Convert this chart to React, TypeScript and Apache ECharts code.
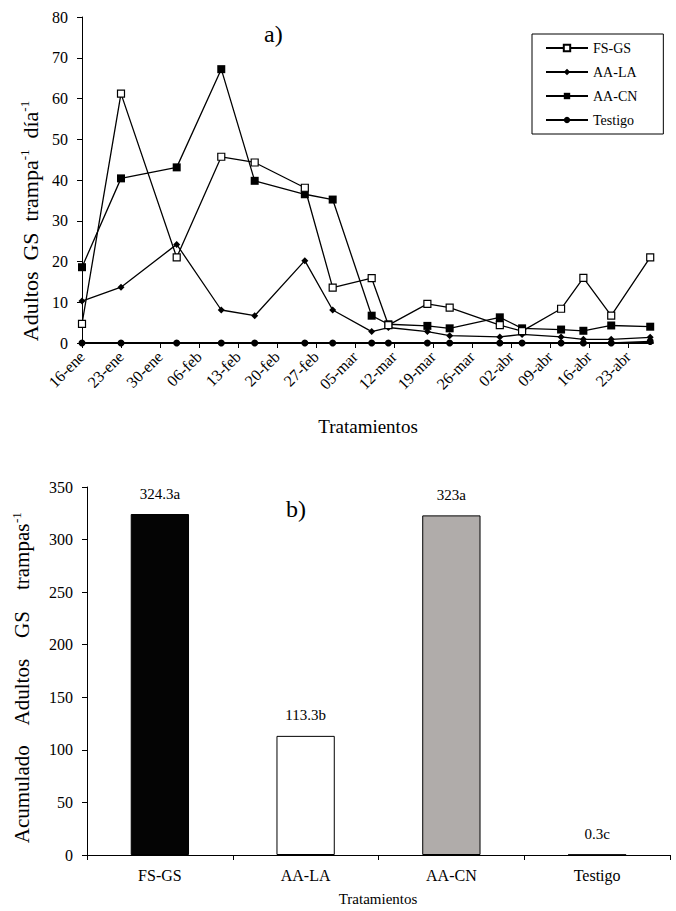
import React, { useEffect, useRef } from "react";
import * as echarts from "echarts";

// ---- Data (panel a) ----
const sampleDates = [
  "2012-01-16", "2012-01-23", "2012-02-02", "2012-02-10", "2012-02-16", "2012-02-25",
  "2012-03-01", "2012-03-08", "2012-03-11", "2012-03-18", "2012-03-22", "2012-03-31",
  "2012-04-04", "2012-04-11", "2012-04-15", "2012-04-20", "2012-04-27",
];
const fsgs = [4.7, 61.2, 21.0, 45.7, 44.3, 38.1, 13.6, 15.9, 4.4, 9.6, 8.7, 4.4, 2.9, 8.4, 16.0, 6.7, 21.0];
const aala = [10.3, 13.7, 24.2, 8.1, 6.7, 20.2, 8.1, 2.8, 3.8, 2.8, 1.8, 1.5, 2.1, 1.5, 0.9, 0.9, 1.4];
const aacn = [18.6, 40.4, 43.1, 67.2, 39.8, 36.5, 35.2, 6.7, 4.6, 4.2, 3.6, 6.3, 3.6, 3.3, 3.0, 4.3, 4.0];
const testigo = [0, 0, 0, 0, 0, 0, 0, 0, 0, 0, 0, 0, 0, 0, 0, 0, 0.4];
const tickLabels = [
  "16-ene", "23-ene", "30-ene", "06-feb", "13-feb", "20-feb", "27-feb", "05-mar",
  "12-mar", "19-mar", "26-mar", "02-abr", "09-abr", "16-abr", "23-abr",
];
const startDate = "2012-01-16";

// ---- Data (panel b) ----
const categories = ["FS-GS", "AA-LA", "AA-CN", "Testigo"];
const totals = [324.3, 113.3, 323, 0.3];
const totalLabels = ["324.3a", "113.3b", "323a", "0.3c"];

const FONT = "'Liberation Serif', 'Times New Roman', serif";

function dayOffset(d: string): number {
  const t0 = Date.parse(startDate + "T00:00:00Z");
  const t = Date.parse(d + "T00:00:00Z");
  return Math.round((t - t0) / 86400000);
}

export default function App() {
  const ref = useRef<HTMLDivElement>(null);
  useEffect(() => {
    if (!ref.current) return;
    const chart = echarts.init(ref.current, null, { renderer: "svg" });
    const xs = sampleDates.map(dayOffset);
    const pts = (arr: number[]) => arr.map((v, i) => [xs[i], v]);
    const tickVals = tickLabels.map((_, i) => i * 7);
    const barColors = ["#040404", "#ffffff", "#b0acaa", "#040404"];

    const lineBase = {
      type: "line",
      xAxisIndex: 0,
      yAxisIndex: 0,
      lineStyle: { color: "#000", width: 1.3 },
      showSymbol: true,
    };

    chart.setOption({
      animation: false,
      textStyle: { fontFamily: FONT, color: "#000" },
      legend: {
        orient: "vertical",
        left: 532,
        top: 34,
        width: 116,
        padding: [7, 26, 7, 13],
        itemWidth: 42,
        itemHeight: 8,
        itemGap: 10,
        borderColor: "#000",
        borderWidth: 1,
        textStyle: { fontFamily: FONT, fontSize: 14, lineHeight: 14, color: "#000" },
        data: ["FS-GS", "AA-LA", "AA-CN", "Testigo"],
      },
      grid: [
        { left: 82, top: 17, right: 23, height: 326, containLabel: false },
        { left: 87, top: 487, right: 6, height: 368, containLabel: false },
      ],
      xAxis: [
        {
          type: "value",
          gridIndex: 0,
          min: 0,
          max: 102.5,
          interval: 7,
          axisLine: { show: true, lineStyle: { color: "#000", width: 1.8 } },
          axisTick: { show: true, inside: false, length: 5, customValues: tickVals, lineStyle: { color: "#000" } },
          axisLabel: {
            customValues: tickVals,
            rotate: 45,
            margin: 11,
            fontFamily: FONT,
            fontSize: 16,
            color: "#000",
            formatter: (v: number) => tickLabels[Math.round(v / 7)] ?? "",
          },
          splitLine: { show: false },
        },
        {
          type: "category",
          gridIndex: 1,
          data: categories,
          axisLine: { show: true, lineStyle: { color: "#000", width: 1 } },
          axisTick: { show: true, inside: false, length: 5, alignWithLabel: false, lineStyle: { color: "#000" } },
          axisLabel: { fontFamily: FONT, fontSize: 16, color: "#000", margin: 12 },
        },
      ],
      yAxis: [
        {
          type: "value",
          gridIndex: 0,
          min: 0,
          max: 80,
          interval: 10,
          axisLine: { show: true, lineStyle: { color: "#000", width: 1 } },
          axisTick: { show: true, inside: false, length: 5, lineStyle: { color: "#000" } },
          axisLabel: { fontFamily: FONT, fontSize: 16, color: "#000", margin: 14 },
          splitLine: { show: false },
        },
        {
          type: "value",
          gridIndex: 1,
          min: 0,
          max: 350,
          interval: 50,
          axisLine: { show: true, lineStyle: { color: "#000", width: 1 } },
          axisTick: { show: true, inside: false, length: 5, lineStyle: { color: "#000" } },
          axisLabel: { fontFamily: FONT, fontSize: 16, color: "#000", margin: 14 },
          splitLine: { show: false },
        },
      ],
      series: [
        {
          ...lineBase,
          name: "Testigo",
          data: pts(testigo),
          symbol: "circle",
          symbolSize: 7,
          itemStyle: { color: "#000" },
          z: 3,
        },
        {
          ...lineBase,
          name: "AA-LA",
          data: pts(aala),
          symbol: "diamond",
          symbolSize: 7,
          itemStyle: { color: "#000" },
          z: 4,
        },
        {
          ...lineBase,
          name: "AA-CN",
          data: pts(aacn),
          symbol: "rect",
          symbolSize: 8,
          itemStyle: { color: "#000" },
          z: 5,
        },
        {
          ...lineBase,
          name: "FS-GS",
          data: pts(fsgs),
          symbol: "rect",
          symbolSize: 7,
          itemStyle: { color: "#fff", borderColor: "#000", borderWidth: 1.2 },
          z: 6,
        },
        {
          type: "bar",
          xAxisIndex: 1,
          yAxisIndex: 1,
          barWidth: "40%",
          data: totals.map((v, i) => ({
            value: v,
            itemStyle: { color: barColors[i], borderColor: "#000", borderWidth: 1 },
          })),
          label: {
            show: true,
            position: "top",
            distance: 13,
            fontFamily: FONT,
            fontSize: 15,
            color: "#000",
            formatter: (p: any) => totalLabels[p.dataIndex],
          },
        },
      ],
      graphic: [
        {
          type: "text",
          left: 264,
          top: 22,
          style: { text: "a)", font: `24px ${FONT}`, fill: "#000" },
        },
        {
          type: "text",
          left: 286,
          top: 497,
          style: { text: "b)", font: `24px ${FONT}`, fill: "#000" },
        },
        {
          type: "text",
          x: 368,
          y: 426,
          style: { text: "Tratamientos", font: `19px ${FONT}`, fill: "#000", align: "center", verticalAlign: "middle" },
        },
        {
          type: "text",
          x: 378,
          y: 899,
          style: { text: "Tratamientos", font: `15px ${FONT}`, fill: "#000", align: "center", verticalAlign: "middle" },
        },
        {
          type: "text",
          x: 30,
          y: 221,
          rotation: Math.PI / 2,
          style: {
            text: "{n|Adultos  GS  trampa}{s|-1}{n|  día}{s|-1}",
            align: "center",
            verticalAlign: "middle",
            fill: "#000",
            rich: {
              n: { fontFamily: FONT, fontSize: 22, fill: "#000", lineHeight: 24 },
              s: { fontFamily: FONT, fontSize: 13, fill: "#000", verticalAlign: "top", lineHeight: 24 },
            },
          },
        },
        {
          type: "text",
          x: 22,
          y: 678,
          rotation: Math.PI / 2,
          style: {
            text: "{n|Acumulado    Adultos    GS    trampas}{s|-1}",
            align: "center",
            verticalAlign: "middle",
            fill: "#000",
            rich: {
              n: { fontFamily: FONT, fontSize: 21, fill: "#000", lineHeight: 24 },
              s: { fontFamily: FONT, fontSize: 13, fill: "#000", verticalAlign: "top", lineHeight: 24 },
            },
          },
        },
      ],
    });
    return () => chart.dispose();
  }, []);
  return (
    <div
      ref={ref}
      style={{ position: "absolute", left: 0, top: 0, width: 676, height: 911, background: "#fff" }}
    />
  );
}
